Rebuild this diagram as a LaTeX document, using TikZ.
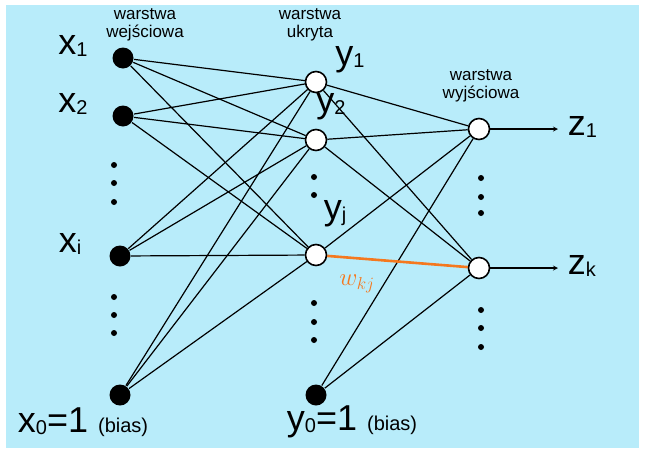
\documentclass[tikz,border=0pt]{standalone}
\usepackage{fontspec}
\setmainfont{Liberation Sans}
\definecolor{bgblue}{RGB}{184,236,250}
\definecolor{wkjorange}{RGB}{245,120,30}
\begin{document}
\begin{tikzpicture}[x=1pt,y=-1pt,line width=1.2pt,
	inp/.style={circle,fill=black,minimum size=21pt,inner sep=0pt},
	hid/.style={circle,draw=black,line width=1.6pt,fill=white,minimum size=21pt,inner sep=0pt},
	lbl/.style={font=\fontsize{36}{36}\selectfont},
	head/.style={font=\fontsize{17}{18}\selectfont,align=center,inner sep=1pt},
	dot/.style={circle,fill=black,minimum size=6pt,inner sep=0pt}]
	\useasboundingbox (0,0) rectangle (645,453);
	\fill[white] (0,0) rectangle (645,453);
	\fill[bgblue] (6,5) rectangle (639,448);
	% input layer
	\node[inp] (x1) at (123,58){};
	\node[inp] (x2) at (123,116){};
	\node[inp] (xi) at (120,256){};
	\node[inp] (x0) at (120,395){};
	% hidden layer
	\node[hid] (y1) at (316,82){};
	\node[hid] (y2) at (316,140){};
	\node[hid] (yj) at (316,255){};
	\node[inp] (y0) at (316,395){};
	% output layer
	\node[hid] (z1) at (479,129){};
	\node[hid] (zk) at (479,268){};
	% connections
	\foreach \a in {x1,x2,xi,x0}
		\foreach \b in {y1,y2,yj}
			\draw (\a) -- (\b);
	\foreach \a in {y1,y2,yj,y0}
		\foreach \b in {z1,zk}
			\draw (\a) -- (\b);
	\draw[wkjorange,line width=2.6pt] (yj) -- (zk);
	\node[wkjorange,font=\fontsize{24}{24}\selectfont] (wkj) at (357,284){$w_{kj}$};
	% outputs
	\coordinate (e1) at (558,129);
	\coordinate (ek) at (558,268);
	\draw[-stealth] (z1) -- (e1);
	\draw[-stealth] (zk) -- (ek);
	\node[lbl,anchor=west] (lz1) at (564,127){z\raisebox{-2pt}{\fontsize{20}{20}\selectfont 1}};
	\node[lbl,anchor=west] (lzk) at (564,266){z\raisebox{-2pt}{\fontsize{20}{20}\selectfont k}};
	% labels
	\node[lbl] (lx1) at (73,46){x\raisebox{-2pt}{\fontsize{20}{20}\selectfont 1}};
	\node[lbl] (lx2) at (73,104){x\raisebox{-2pt}{\fontsize{20}{20}\selectfont 2}};
	\node[lbl] (lxi) at (70,244){x\raisebox{-2pt}{\fontsize{20}{20}\selectfont i}};
	\node[lbl] (ly1) at (350,60){y\raisebox{-2pt}{\fontsize{20}{20}\selectfont 1}};
	\node[lbl] (ly2) at (331,107){y\raisebox{-2pt}{\fontsize{20}{20}\selectfont 2}};
	\node[lbl] (lyj) at (335,214){y\raisebox{-2pt}{\fontsize{20}{20}\selectfont j}};
	\node[lbl,anchor=west] (lx0) at (14,422){x\raisebox{-2pt}{\fontsize{20}{20}\selectfont 0}=1 {\fontsize{20}{20}\selectfont(bias)}};
	\node[lbl,anchor=west] (ly0) at (283,422){y\raisebox{-2pt}{\fontsize{20}{20}\selectfont 0}=1 {\fontsize{20}{20}\selectfont(bias)}};
	\node[head] (hin) at (145,25){warstwa\\wejściowa};
	\node[head] (hhid) at (310,25){warstwa\\ukryta};
	\node[head] (hout) at (481,86){warstwa\\wyjściowa};
	% dots
	\foreach \y in {165,183,202,297,315,333} \node[dot] at (114,\y){};
	\foreach \y in {177,195,303,322,340} \node[dot] at (314,\y){};
	\foreach \y in {178,197,213,310,328,347} \node[dot] at (481,\y){};
\end{tikzpicture}
\end{document}
